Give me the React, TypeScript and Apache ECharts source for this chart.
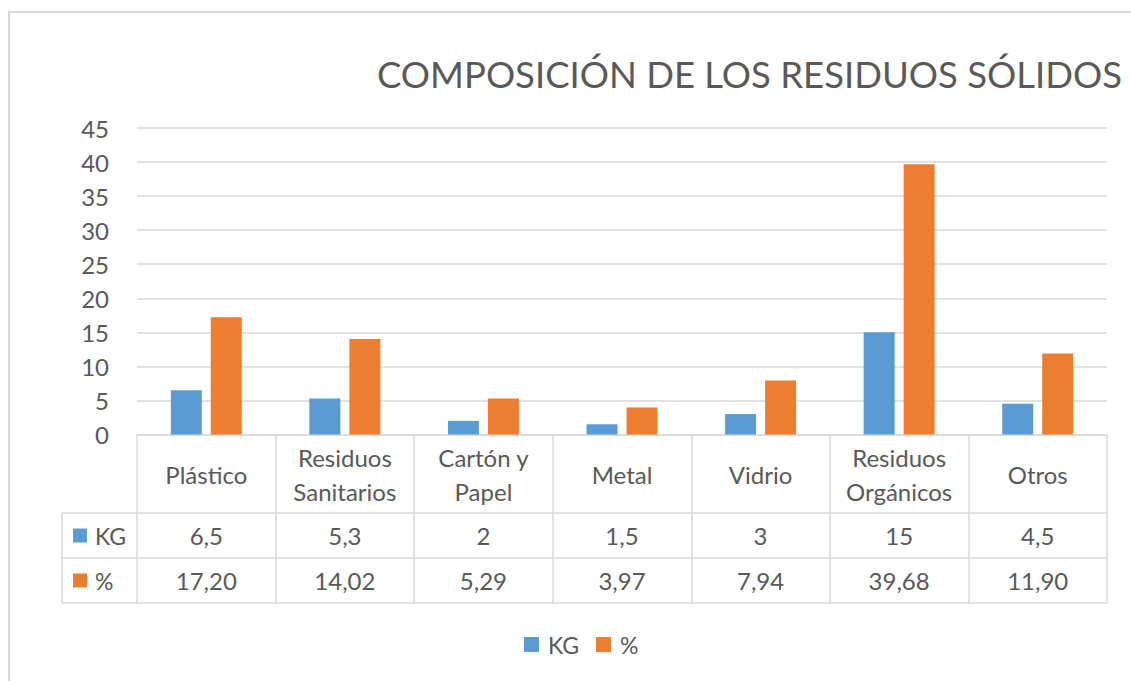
import React, { useEffect, useRef } from "react";
import * as echarts from "echarts";

const title = "COMPOSICIÓN DE LOS RESIDUOS SÓLIDOS";
const categories = [
  "Plástico",
  "Residuos\nSanitarios",
  "Cartón y\nPapel",
  "Metal",
  "Vidrio",
  "Residuos\nOrgánicos",
  "Otros",
];
const seriesNames = ["KG", "%"];
const kgValues = [6.5, 5.3, 2, 1.5, 3, 15, 4.5];
const pctValues = [17.2, 14.02, 5.29, 3.97, 7.94, 39.68, 11.9];
const yMin = 0;
const yMax = 45;
const yInterval = 5;

const kgLabels = kgValues.map((v) => String(v).replace(".", ","));
const pctLabels = pctValues.map((v) => v.toFixed(2).replace(".", ","));

const COLORS = ["#5B9BD5", "#ED7D31"];
const TEXT = "#595959";
const LINE = "#d9d9d9";
const FONT = "Lato, 'Open Sans', sans-serif";

export default function App() {
  const ref = useRef<HTMLDivElement>(null);
  useEffect(() => {
    if (!ref.current) return;
    const chart = echarts.init(ref.current, null, { renderer: "svg" });
    const W = 1131;
    const H = 681;
    const gLeft = 137;
    const gRight = 1107;
    const gTop = 128;
    const gBottom = 434.5;
    const tableLeft = 62;
    const row1 = 513;
    const row2 = 558;
    const row3 = 603;
    const lineStyle = { stroke: LINE, lineWidth: 1.5 };
    chart.setOption({
      animation: false,
      backgroundColor: "#ffffff",
      textStyle: { fontFamily: FONT },
      grid: { left: gLeft, right: W - gRight, top: gTop, bottom: H - gBottom, containLabel: false },
      legend: {
        data: seriesNames,
        left: 519,
        top: 628,
        itemWidth: 15,
        itemHeight: 15,
        itemGap: 17,
        icon: "rect",
        textStyle: { color: TEXT, fontSize: 23, fontFamily: FONT, padding: [0, 0, 0, 4] },
      },
      xAxis: [
        {
          type: "category",
          data: categories,
          position: "bottom",
          axisLine: { show: true, lineStyle: { color: LINE, width: 1.5 } },
          axisTick: { show: true, length: row3 - gBottom, lineStyle: { color: LINE, width: 1.5 } },
          axisLabel: {
            interval: 0,
            color: TEXT,
            fontSize: 24,
            fontFamily: FONT,
            lineHeight: 34,
            verticalAlign: "middle",
            margin: 39.5,
          },
        },
        {
          type: "category",
          data: kgLabels,
          position: "bottom",
          offset: (row1 + row2) / 2 - gBottom,
          axisLine: { show: false },
          axisTick: { show: false },
          axisLabel: { interval: 0, color: TEXT, fontSize: 24, fontFamily: FONT, verticalAlign: "middle", margin: 0 },
        },
        {
          type: "category",
          data: pctLabels,
          position: "bottom",
          offset: (row2 + row3) / 2 - gBottom,
          axisLine: { show: false },
          axisTick: { show: false },
          axisLabel: { interval: 0, color: TEXT, fontSize: 24, fontFamily: FONT, verticalAlign: "middle", margin: 0 },
        },
      ],
      yAxis: {
        type: "value",
        min: yMin,
        max: yMax,
        interval: yInterval,
        axisLine: { show: false },
        axisTick: { show: false },
        axisLabel: { color: TEXT, fontSize: 24, fontFamily: FONT, margin: 28 },
        splitLine: { lineStyle: { color: LINE, width: 1.5 } },
      },
      series: [
        {
          name: seriesNames[0],
          type: "bar",
          data: kgValues,
          itemStyle: { color: COLORS[0] },
          barWidth: 31,
          barGap: "29%",
        },
        {
          name: seriesNames[1],
          type: "bar",
          data: pctValues,
          itemStyle: { color: COLORS[1] },
          barWidth: 31,
          barGap: "29%",
        },
      ],
      graphic: [
        {
          type: "rect",
          shape: { x: 9, y: 12, width: 1400, height: 900 },
          style: { fill: "none", stroke: LINE, lineWidth: 2 },
          silent: true,
        },
        {
          type: "text",
          x: 377,
          y: 74,
          style: { text: title, fill: TEXT, font: `36.5px ${FONT}`, verticalAlign: "middle", align: "left" },
        },
        { type: "line", shape: { x1: tableLeft, y1: row1, x2: gRight, y2: row1 }, style: lineStyle },
        { type: "line", shape: { x1: tableLeft, y1: row2, x2: gRight, y2: row2 }, style: lineStyle },
        { type: "line", shape: { x1: tableLeft, y1: row3, x2: gRight, y2: row3 }, style: lineStyle },
        { type: "line", shape: { x1: tableLeft, y1: row1, x2: tableLeft, y2: row3 }, style: lineStyle },
        { type: "rect", shape: { x: 73, y: (row1 + row2) / 2 - 7, width: 14, height: 14 }, style: { fill: COLORS[0] } },
        { type: "rect", shape: { x: 73, y: (row2 + row3) / 2 - 7, width: 14, height: 14 }, style: { fill: COLORS[1] } },
        {
          type: "text",
          x: 95,
          y: (row1 + row2) / 2,
          style: { text: seriesNames[0], fill: TEXT, font: `23px ${FONT}`, verticalAlign: "middle" },
        },
        {
          type: "text",
          x: 95,
          y: (row2 + row3) / 2,
          style: { text: seriesNames[1], fill: TEXT, font: `23px ${FONT}`, verticalAlign: "middle" },
        },
      ],
    });
    return () => chart.dispose();
  }, []);
  return (
    <div
      ref={ref}
      style={{ position: "fixed", left: 0, top: 0, width: 1131, height: 681, background: "#fff" }}
    />
  );
}
